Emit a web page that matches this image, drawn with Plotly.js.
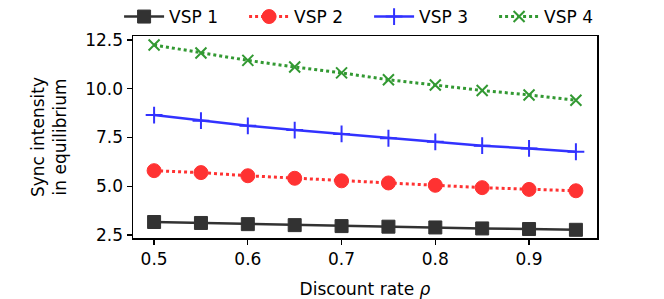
<!DOCTYPE html>
<html>
<head>
<meta charset="utf-8">
<script src="https://cdn.plot.ly/plotly-3.0.1.min.js"></script>
<style>html,body{margin:0;padding:0;background:#fff;}#chart{width:664px;height:299px;}</style>
</head>
<body>
<div id="chart"></div>
<script>
const rho = [0.5, 0.55, 0.6, 0.65, 0.7, 0.75, 0.8, 0.85, 0.9, 0.95];
const vsp1 = [3.17, 3.12, 3.06, 3.01, 2.96, 2.93, 2.89, 2.84, 2.81, 2.77];
const vsp2 = [5.80, 5.70, 5.54, 5.41, 5.28, 5.17, 5.05, 4.93, 4.84, 4.77];
const vsp3 = [8.65, 8.36, 8.10, 7.88, 7.68, 7.46, 7.28, 7.08, 6.94, 6.77];
const vsp4 = [12.24, 11.83, 11.45, 11.11, 10.81, 10.46, 10.19, 9.91, 9.68, 9.41];
const names = ["VSP 1", "VSP 2", "VSP 3", "VSP 4"];

const font = {family: "DejaVu Sans", size: 17, color: "#000"};

const traces = [
  {x: rho, y: vsp1, name: names[0], mode: "lines+markers", opacity: 0.8,
   line: {color: "#000000", width: 2.5, dash: "solid"},
   marker: {symbol: "square", size: 13, color: "#000000", line: {color: "#000000", width: 1}}},
  {x: rho, y: vsp2, name: names[1], mode: "lines+markers", opacity: 0.8,
   line: {color: "#ff0000", width: 3, dash: "dot"},
   marker: {symbol: "circle", size: 14, color: "#ff0000", line: {color: "#ff0000", width: 1}}},
  {x: rho, y: vsp3, name: names[2], mode: "lines+markers", opacity: 0.8,
   line: {color: "#0000ff", width: 2.5, dash: "solid"},
   marker: {symbol: "cross-thin", size: 12, color: "#0000ff", line: {color: "#0000ff", width: 2}}},
  {x: rho, y: vsp4, name: names[3], mode: "lines+markers", opacity: 0.8,
   line: {color: "#008000", width: 3, dash: "dot"},
   marker: {symbol: "x-thin", size: 11, color: "#008000", line: {color: "#008000", width: 2}}}
];

const layout = {
  width: 664, height: 299,
  margin: {l: 133, r: 67, t: 36, b: 61, autoexpand: false},
  paper_bgcolor: "#fff", plot_bgcolor: "#fff",
  font: font,
  showlegend: true,
  legend: {orientation: "h", x: -0.03, xanchor: "left", y: 1.094, yanchor: "middle",
           font: {family: "DejaVu Sans", size: 17, color: "#000"},
           bgcolor: "rgba(0,0,0,0)", itemwidth: 40, entrywidth: 70, tracegroupgap: 0},
  xaxis: {
    range: [0.4775, 0.9725],
    tickvals: [0.5, 0.6, 0.7, 0.8, 0.9],
    ticktext: ["0.5", "0.6", "0.7", "0.8", "0.9"],
    ticks: "outside", ticklen: 5, tickwidth: 1.2, tickcolor: "#000",
    showline: true, linecolor: "#000", linewidth: 1.5, mirror: true,
    showgrid: false, zeroline: false,
    tickfont: font,
    title: {text: "Discount rate <i>ρ</i>", font: font, standoff: 18}
  },
  yaxis: {
    range: [2.35, 12.7],
    tickvals: [2.5, 5.0, 7.5, 10.0, 12.5],
    ticktext: ["2.5", "5.0", "7.5", "10.0", "12.5"],
    ticks: "outside", ticklen: 5, tickwidth: 1.2, tickcolor: "#000",
    showline: true, linecolor: "#000", linewidth: 1.5, mirror: true,
    showgrid: false, zeroline: false,
    tickfont: font,
    title: {text: "Sync intensity<br>in equilibrium", font: font, standoff: 14}
  }
};

Plotly.newPlot("chart", traces, layout, {displayModeBar: false, staticPlot: true});
</script>
</body>
</html>
